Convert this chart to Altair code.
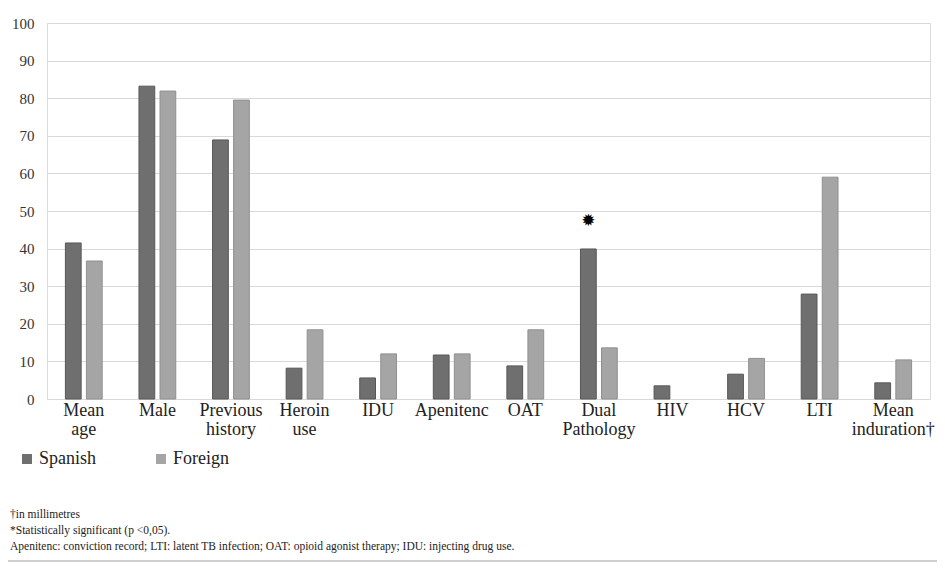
import altair as alt
import pandas as pd

categories = ["Mean|age", "Male", "Previous|history", "Heroin|use", "IDU", "Apenitenc",
              "OAT", "Dual|Pathology", "HIV", "HCV", "LTI", "Mean|induration\u2020"]
spanish = [41.5, 83.2, 68.9, 8.2, 5.6, 11.7, 8.8, 39.9, 3.5, 6.6, 27.9, 4.3]
foreign = [36.7, 81.9, 79.5, 18.4, 12.0, 12.0, 18.4, 13.6, 0.0, 10.8, 59.0, 10.4]
series = ["Spanish", "Foreign"]
colors = ["#6f6f6f", "#a5a5a5"]
strokes = ["#585858", "#909090"]
y_ticks = [0, 10, 20, 30, 40, 50, 60, 70, 80, 90, 100]
star_category = "Dual|Pathology"
star_value = 47.3
notes = ["\u2020in millimetres",
         "*Statistically significant (p <0,05).",
         "Apenitenc: conviction record; LTI: latent TB infection; OAT: opioid agonist therapy; IDU: injecting drug use."]

rows = []
for c, s, f in zip(categories, spanish, foreign):
    rows.append({"cat": c, "series": "Spanish", "value": s})
    rows.append({"cat": c, "series": "Foreign", "value": f})
df = pd.DataFrame(rows)

FONT = "Liberation Serif"

x_enc = alt.X("cat:N", sort=categories, title=None,
              scale=alt.Scale(paddingInner=0.5, paddingOuter=0.25),
              axis=alt.Axis(labelAngle=0, labelExpr="split(datum.label, '|')",
                            labelFontSize=18, labelFont=FONT, labelColor="#222222",
                            labelLineHeight=19, labelPadding=2, ticks=False,
                            domain=True, domainColor="#d9d9d9", grid=False,
                            labelLimit=200))
xo_enc = alt.XOffset("series:N", sort=series,
                     scale=alt.Scale(domain=series, paddingInner=0.25, paddingOuter=0))
y_axis = alt.Axis(values=y_ticks, tickCount=11, grid=True, gridColor="#d9d9d9",
                  domain=False, ticks=False, labelPadding=13, labelFontSize=15,
                  labelFont=FONT, labelColor="#333333", labelOverlap=False)
y_scale = alt.Scale(domain=[0, 100], nice=False)

bars = alt.Chart(df).transform_filter("datum.value > 0").mark_bar(strokeWidth=1).encode(
    x=x_enc,
    xOffset=xo_enc,
    y=alt.Y("value:Q", title=None, scale=y_scale, axis=y_axis),
    color=alt.Color("series:N", sort=series, title=None,
                    scale=alt.Scale(domain=series, range=colors),
                    legend=alt.Legend(orient="none", direction="horizontal",
                                      legendX=-29, legendY=427, symbolType="square",
                                      symbolSize=100, symbolStrokeWidth=0,
                                      labelFontSize=18, labelFont=FONT,
                                      labelColor="#222222", labelOffset=3,
                                      columnPadding=55)),
    stroke=alt.Stroke("series:N", sort=series,
                      scale=alt.Scale(domain=series, range=strokes), legend=None),
)

star_df = pd.DataFrame({"cat": [star_category], "series": ["Spanish"],
                        "value": [star_value], "label": ["\u2739"]})
star = alt.Chart(star_df).mark_text(font="DejaVu Sans", fontSize=17, color="#000000",
                                    baseline="middle").encode(
    x=alt.X("cat:N", sort=categories),
    xOffset=alt.XOffset("series:N", sort=series),
    y=alt.Y("value:Q", title=None, scale=y_scale, axis=y_axis),
    text="label:N",
)

note_df = pd.DataFrame({"n": [0]})
note_layers = []
for i, line in enumerate(notes):
    note_layers.append(
        alt.Chart(note_df).mark_text(text=line, align="left", baseline="middle",
                                     fontSize=11.5, font=FONT, color="#222222").encode(
            x=alt.value(-37), y=alt.value(492 + 16 * i)))

bottom_line = alt.Chart(note_df).mark_rule(color="#bfbfbf", strokeWidth=1.5).encode(
    x=alt.value(-39), x2=alt.value(890), y=alt.value(538))

chart = alt.layer(bars, star, *note_layers, bottom_line).properties(
    width=883, height=376,
    padding={"left": 39, "top": 15, "right": 7, "bottom": 163},
    autosize=alt.AutoSizeParams(type="none"),
).configure_view(stroke=None).configure(background="#ffffff", font=FONT)

chart.save("out.html", embed_options={"renderer": "svg", "actions": False})
